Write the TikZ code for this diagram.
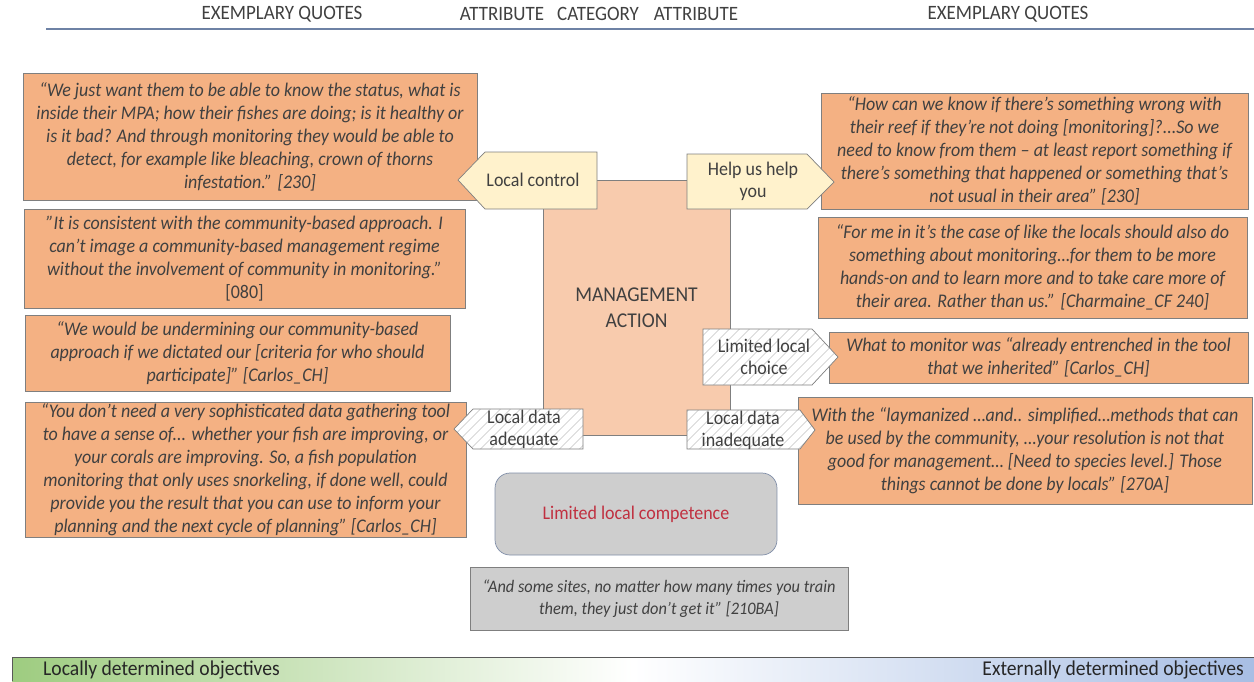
\documentclass[tikz,border=0pt]{standalone}
\usepackage{fontspec}
\setmainfont{Carlito}[FakeStretch=0.93]
\usepackage{tikz}
\usetikzlibrary{patterns.meta}
\usepackage{xcolor}
\definecolor{quotefill}{RGB}{244,177,131}
\definecolor{actfill}{RGB}{248,203,173}
\definecolor{attrfill}{RGB}{255,242,204}
\definecolor{greyfill}{RGB}{206,206,206}
\definecolor{edge}{RGB}{127,127,127}
\definecolor{compedge}{RGB}{128,142,168}
\definecolor{ink}{RGB}{64,64,64}
\definecolor{redink}{RGB}{192,48,64}
\definecolor{barg}{RGB}{158,204,128}
\definecolor{barb}{RGB}{168,190,228}
\definecolor{rulecol}{RGB}{110,130,165}

\begin{document}
\begin{tikzpicture}[x=0.02cm,y=-0.02cm]
  \tikzstyle{quote}=[rectangle,draw=edge,fill=quotefill,inner sep=0pt,align=center,text=ink,font=\fontsize{11}{13.1}\selectfont\itshape]
  \tikzstyle{greyquote}=[quote,fill=greyfill,font=\fontsize{10}{12.5}\selectfont\itshape]
  \tikzstyle{act}=[rectangle,draw=edge,fill=actfill,align=center,text=ink,font=\fontsize{12}{14.5}\selectfont]
  \tikzstyle{comp}=[rectangle,rounded corners=0.3cm,draw=compedge,fill=greyfill,text=redink,font=\fontsize{11}{13}\selectfont]
  \tikzstyle{attr}=[draw=edge,fill=attrfill]
  \tikzstyle{hatch}=[draw=edge,preaction={fill=white},pattern={Lines[angle=45,distance=4pt,line width=.5pt]},pattern color=gray!35]
  \tikzstyle{lbl}=[align=center,text=ink,font=\fontsize{11}{12.5}\selectfont]
  \tikzstyle{head}=[text=ink,font=\fontsize{11.6}{13}\selectfont]
  \tikzstyle{bartext}=[text=black!85,font=\fontsize{12}{14}\selectfont]
  \useasboundingbox (0,0) rectangle (1254,681);
  % column heads
  \node(head-ql) at (282,14) [head]{EXEMPLARY QUOTES};
  \node(head-al) at (502,14) [head]{ATTRIBUTE};
  \node(head-c) at (598,14) [head]{CATEGORY};
  \node(head-ar) at (696,14) [head]{ATTRIBUTE};
  \node(head-qr) at (1008,14) [head]{EXEMPLARY QUOTES};
  \coordinate(rule-l) at (46,29);
  \coordinate(rule-r) at (1254,29);
  \draw[rulecol,line width=.8pt](rule-l)--(rule-r);
  % quotes, left side
  \node(q1) at (250,136.5) [quote,minimum width=9.08cm,minimum height=2.54cm]{“We just want them to be able to know the status, what is\\inside their MPA; how their fishes are doing; is it healthy or\\is it bad? And through monitoring they would be able to\\detect, for example like bleaching, crown of thorns\\infestation.” [230]};
  \node(q2) at (244.5,258.5) [quote,minimum width=8.82cm,minimum height=1.98cm]{"It is consistent with the community-based approach. I\\can't image a community-based management regime\\without the involvement of community in monitoring."\\{\upshape [080]}};
  \node(q3) at (237.5,353) [quote,minimum width=8.5cm,minimum height=1.52cm]{“We would be undermining our community-based\\approach if we dictated our [criteria for who should\\participate]” [Carlos\_CH]};
  \node(q4) at (245.5,469.5) [quote,minimum width=8.82cm,minimum height=2.7cm]{“You don’t need a very sophisticated data gathering tool\\to have a sense of... whether your fish are improving, or\\your corals are improving. So, a fish population\\monitoring that only uses snorkeling, if done well, could\\provide you the result that you can use to inform your\\planning and the next cycle of planning” [Carlos\_CH]};
  % quotes, right side
  \node(r1) at (1034.5,151) [quote,minimum width=8.54cm,minimum height=2.32cm]{“How can we know if there’s something wrong with\\their reef if they’re not doing [monitoring]?...So we\\need to know from them – at least report something if\\there’s something that happened or something that’s\\not usual in their area” [230]};
  \node(r2) at (1032.5,267.5) [quote,minimum width=8.58cm,minimum height=2.02cm]{“For me in it’s the case of like the locals should also do\\something about monitoring…for them to be more\\hands-on and to learn more and to take care more of\\their area. Rather than us.” [Charmaine\_CF 240]};
  \node(r3) at (1038.5,357.5) [quote,minimum width=8.38cm,minimum height=1.02cm]{What to monitor was “already entrenched in the tool\\that we inherited” [Carlos\_CH]};
  \node(r4) at (1025,450.5) [quote,minimum width=9.08cm,minimum height=2.14cm]{With the “laymanized …and.. simplified…methods that can\\be used by the community, …your resolution is not that\\good for management… [Need to species level.] Those\\things cannot be done by locals” [270A]};
  % category
  \node(act) at (636.5,307.5) [act,minimum width=3.74cm,minimum height=5.1cm]{MANAGEMENT\\ACTION};
  \node(comp) at (636,514) [comp,minimum width=5.64cm,minimum height=1.64cm]{Limited local competence};
  \node(q5) at (659,598.5) [greyquote,minimum width=7.56cm,minimum height=1.26cm]{“And some sites, no matter how many times you train\\them, they just don’t get it” [210BA]};
  % attributes
  \path[attr](458,180)--(485,152)--(597,152)--(597,209)--(485,209)--cycle;
  \node(lc) at (533,180) [lbl]{Local control};
  \path[attr](687,154)--(807,154)--(834,182)--(807,209)--(687,209)--cycle;
  \node(hu) at (753,181) [lbl]{Help us help\\you};
  \path[hatch](703,329)--(812,329)--(838,357)--(812,385)--(703,385)--cycle;
  \node(llc) at (764,357) [lbl]{Limited local\\choice};
  \path[hatch](454,429)--(473,409)--(583,409)--(583,449)--(473,449)--cycle;
  \node(lda) at (524,429) [lbl]{Local data\\adequate};
  \path[hatch](687,410)--(800,410)--(815,430)--(800,449)--(687,449)--cycle;
  \node(ldi) at (743,430) [lbl]{Local data\\inadequate};
  % objectives bar
  \shade[left color=barg,right color=barb,middle color=white](12,657) rectangle (1254,681);
  \draw[black!65](12,681)--(12,657)--(1254,657);
  \node(obj-l) at (37,670) [bartext,anchor=west]{Locally determined objectives};
  \node(obj-r) at (1250,670) [bartext,anchor=east]{Externally determined objectives};
\end{tikzpicture}
\end{document}
